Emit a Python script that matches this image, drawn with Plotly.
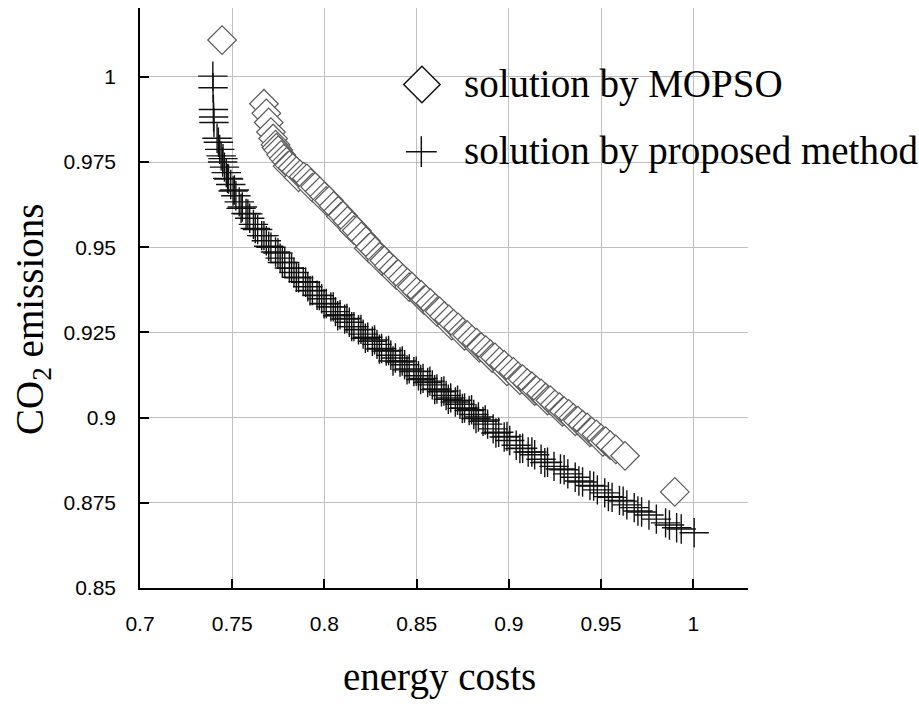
import plotly.graph_objects as go

# ---------------- data ----------------
mopso_cost = [
    0.7445, 0.7672, 0.7685, 0.7698, 0.7710, 0.7722, 0.7735, 0.7750, 0.7765, 0.7780,
    0.7795, 0.7810, 0.7828, 0.7848, 0.7868, 0.7888, 0.7905, 0.7925, 0.7950, 0.7975,
    0.8000, 0.8025, 0.8050, 0.8075, 0.8100, 0.8125, 0.8150, 0.8175, 0.8200, 0.8225,
    0.8250, 0.8275, 0.8300, 0.8325, 0.8350, 0.8375, 0.8400, 0.8425, 0.8450, 0.8475,
    0.8500, 0.8525, 0.8550, 0.8575, 0.8600, 0.8625, 0.8650, 0.8675, 0.8700, 0.8725,
    0.8750, 0.8775, 0.8800, 0.8825, 0.8850, 0.8875, 0.8900, 0.8925, 0.8950, 0.8975,
    0.9000, 0.9025, 0.9050, 0.9075, 0.9100, 0.9125, 0.9150, 0.9175, 0.9200, 0.9225,
    0.9250, 0.9275, 0.9300, 0.9325, 0.9350, 0.9375, 0.9400, 0.9425, 0.9450, 0.9475,
    0.9500, 0.9525, 0.9550, 0.9580, 0.9630, 0.9900,
    0.7740, 0.7800, 0.7860, 0.7935, 0.8010, 0.8090, 0.8160, 0.8240, 0.8310, 0.8390,
    0.8460, 0.8540, 0.8610, 0.8690, 0.8760, 0.8840, 0.8910, 0.8990, 0.9060, 0.9140,
    0.9210, 0.9290, 0.9360, 0.9440, 0.9510,
]
mopso_co2 = [
    1.0108, 0.9921, 0.9893, 0.9866, 0.9838, 0.9819, 0.9801, 0.9785, 0.9771, 0.9760,
    0.9751, 0.9741, 0.9733, 0.9723, 0.9714, 0.9707, 0.9702, 0.9689, 0.9677, 0.9664,
    0.9649, 0.9637, 0.9621, 0.9607, 0.9593, 0.9577, 0.9563, 0.9549, 0.9532, 0.9518,
    0.9501, 0.9488, 0.9472, 0.9461, 0.9446, 0.9434, 0.9422, 0.9408, 0.9396, 0.9384,
    0.9370, 0.9360, 0.9346, 0.9336, 0.9322, 0.9312, 0.9298, 0.9288, 0.9275, 0.9265,
    0.9251, 0.9242, 0.9229, 0.9220, 0.9207, 0.9198, 0.9186, 0.9177, 0.9164, 0.9155,
    0.9142, 0.9134, 0.9121, 0.9113, 0.9101, 0.9092, 0.9080, 0.9071, 0.9059, 0.9051,
    0.9039, 0.9031, 0.9019, 0.9011, 0.8999, 0.8991, 0.8979, 0.8971, 0.8959, 0.8951,
    0.8939, 0.8931, 0.8919, 0.8907, 0.8888, 0.8782,
    0.9792, 0.9738, 0.9705, 0.9675, 0.9636, 0.9590, 0.9550, 0.9497, 0.9460, 0.9418,
    0.9383, 0.9345, 0.9310, 0.9270, 0.9240, 0.9205, 0.9175, 0.9136, 0.9110, 0.9078,
    0.9050, 0.9017, 0.8989, 0.8957, 0.8929,
]

proposed_cost = [
    0.7395, 0.7396, 0.7398, 0.7399, 0.7401, 0.7418, 0.7425, 0.7432, 0.7440, 0.7448,
    0.7458, 0.7468, 0.7480, 0.7492, 0.7505, 0.7520, 0.7538, 0.7555, 0.7575, 0.7595,
    0.7615, 0.7638, 0.7660, 0.7685, 0.7710, 0.7735, 0.7760, 0.7785, 0.7810, 0.7835,
    0.7860, 0.7885, 0.7910, 0.7935, 0.7960, 0.7985, 0.8010, 0.8035, 0.8060, 0.8085,
    0.8110, 0.8135, 0.8160, 0.8185, 0.8210, 0.8235, 0.8260, 0.8285, 0.8310, 0.8335,
    0.8360, 0.8385, 0.8410, 0.8435, 0.8460, 0.8485, 0.8510, 0.8535, 0.8560, 0.8585,
    0.8610, 0.8635, 0.8660, 0.8685, 0.8710, 0.8735, 0.8760, 0.8785, 0.8810, 0.8835,
    0.8860, 0.8885, 0.8915, 0.8945, 0.8975, 0.9005, 0.9040, 0.9075, 0.9105, 0.9140,
    0.9175, 0.9210, 0.9245, 0.9280, 0.9320, 0.9360, 0.9400, 0.9440, 0.9480, 0.9520,
    0.9560, 0.9600, 0.9640, 0.9680, 0.9720, 0.9760, 0.9800, 0.9850, 0.9871, 0.9910,
    0.9935, 1.0005,
    0.7450, 0.7475, 0.7512, 0.7548, 0.7585, 0.7625, 0.7672, 0.7698, 0.7748, 0.7772,
    0.7822, 0.7848, 0.7898, 0.7922, 0.7972, 0.7998, 0.8048, 0.8072, 0.8122, 0.8148,
    0.8198, 0.8222, 0.8272, 0.8298, 0.8348, 0.8372, 0.8422, 0.8448, 0.8498, 0.8522,
    0.8572, 0.8598, 0.8648, 0.8672, 0.8722, 0.8748, 0.8798, 0.8822, 0.8872, 0.8930,
    0.8990, 0.9060, 0.9125, 0.9195, 0.9300, 0.9380, 0.9460, 0.9540, 0.9620, 0.9700,
]
proposed_co2 = [
    1.0002, 0.9968, 0.9904, 0.9882, 0.9866, 0.9820, 0.9808, 0.9787, 0.9768, 0.9750,
    0.9735, 0.9719, 0.9700, 0.9684, 0.9665, 0.9651, 0.9633, 0.9618, 0.9599, 0.9585,
    0.9567, 0.9552, 0.9534, 0.9519, 0.9500, 0.9486, 0.9468, 0.9455, 0.9439, 0.9426,
    0.9410, 0.9399, 0.9384, 0.9373, 0.9359, 0.9349, 0.9335, 0.9325, 0.9311, 0.9302,
    0.9289, 0.9280, 0.9267, 0.9258, 0.9245, 0.9236, 0.9224, 0.9215, 0.9203, 0.9195,
    0.9183, 0.9175, 0.9163, 0.9155, 0.9143, 0.9135, 0.9123, 0.9115, 0.9103, 0.9096,
    0.9084, 0.9076, 0.9065, 0.9058, 0.9046, 0.9039, 0.9028, 0.9021, 0.9009, 0.9002,
    0.8989, 0.8981, 0.8967, 0.8957, 0.8943, 0.8933, 0.8919, 0.8910, 0.8899, 0.8891,
    0.8878, 0.8869, 0.8857, 0.8849, 0.8835, 0.8825, 0.8811, 0.8801, 0.8788, 0.8779,
    0.8766, 0.8757, 0.8744, 0.8736, 0.8723, 0.8714, 0.8702, 0.8691, 0.8685, 0.8677,
    0.8673, 0.8662,
    0.9760, 0.9702, 0.9668, 0.9614, 0.9598, 0.9555, 0.9534, 0.9503, 0.9483, 0.9455,
    0.9438, 0.9412, 0.9397, 0.9372, 0.9358, 0.9334, 0.9325, 0.9299, 0.9291, 0.9267,
    0.9259, 0.9233, 0.9228, 0.9201, 0.9197, 0.9166, 0.9166, 0.9140, 0.9136, 0.9112,
    0.9107, 0.9082, 0.9078, 0.9054, 0.9051, 0.9027, 0.9023, 0.8997, 0.8993, 0.8955,
    0.8945, 0.8909, 0.8899, 0.8868, 0.8847, 0.8814, 0.8799, 0.8768, 0.8755, 0.8726,
]

x_ticks = [0.7, 0.75, 0.8, 0.85, 0.9, 0.95, 1.0]
x_tick_text = ["0.7", "0.75", "0.8", "0.85", "0.9", "0.95", "1"]
y_ticks = [0.85, 0.875, 0.9, 0.925, 0.95, 0.975, 1.0]
y_tick_text = ["0.85", "0.875", "0.9", "0.925", "0.95", "0.975", "1"]

series_names = ["solution by MOPSO", "solution by proposed method"]

# draw points in order of increasing cost (as the original plot overlaps)
mopso_pts = sorted(zip(mopso_cost, mopso_co2))
proposed_pts = sorted(zip(proposed_cost, proposed_co2))

# ---------------- styling ----------------
SERIF = "Liberation Serif, Times New Roman, serif"
SANS = "Liberation Sans, Arial, sans-serif"
GRID = "#bfbfbf"

fig = go.Figure()

fig.add_trace(go.Scatter(
    x=[p[0] for p in mopso_pts], y=[p[1] for p in mopso_pts],
    mode="markers", name=series_names[0],
    marker=dict(symbol="diamond", size=22, color="white",
                line=dict(color="#5a5a5a", width=1.2)),
    cliponaxis=False,
))
fig.add_trace(go.Scatter(
    x=[p[0] for p in proposed_pts], y=[p[1] for p in proposed_pts],
    mode="markers", name=series_names[1],
    marker=dict(symbol="cross-thin", size=21,
                line=dict(color="#111111", width=1.4)),
    cliponaxis=False,
))

# custom legend symbols on an invisible overlay axis (fractions of plot area)
fig.add_trace(go.Scatter(
    x=[0.4637], y=[0.8681], mode="markers", xaxis="x2", yaxis="y2",
    marker=dict(symbol="diamond", size=28, color="white",
                line=dict(color="#111111", width=1.5)),
    hoverinfo="skip", cliponaxis=False,
))
fig.add_trace(go.Scatter(
    x=[0.4627], y=[0.7522], mode="markers", xaxis="x2", yaxis="y2",
    marker=dict(symbol="cross-thin", size=22,
                line=dict(color="#111111", width=1.5)),
    hoverinfo="skip", cliponaxis=False,
))

axis_common = dict(
    showgrid=True, gridcolor=GRID, gridwidth=1.3,
    showline=True, linecolor="black", linewidth=1.5,
    ticks="inside", ticklen=9, tickwidth=1.5, tickcolor="black",
    tickfont=dict(family=SANS, size=21, color="black"),
    zeroline=False, mirror=False,
)

fig.update_layout(
    width=919, height=704,
    margin=dict(l=140, r=171, t=8, b=116),
    plot_bgcolor="white", paper_bgcolor="white",
    showlegend=False,
    xaxis=dict(range=[0.7, 1.0297], tickmode="array", tickvals=x_ticks,
               ticktext=x_tick_text, ticklabelstandoff=16, **axis_common),
    yaxis=dict(range=[0.85, 1.0202], tickmode="array", tickvals=y_ticks,
               ticktext=y_tick_text, ticklabelstandoff=18, **axis_common),
    xaxis2=dict(range=[0, 1], overlaying="x", visible=False, anchor="y2"),
    yaxis2=dict(range=[0, 1], overlaying="y", visible=False, anchor="x2"),
    annotations=[
        dict(text=series_names[0], xref="paper", yref="paper", x=0.5296, y=0.8691,
             xanchor="left", yanchor="middle", showarrow=False,
             font=dict(family=SERIF, size=39, color="black")),
        dict(text=series_names[1], xref="paper", yref="paper", x=0.5296, y=0.7538,
             xanchor="left", yanchor="middle", showarrow=False,
             font=dict(family=SERIF, size=39, color="black")),
        dict(text="energy costs", xref="paper", yref="paper", x=0.4934, y=-0.1534,
             xanchor="center", yanchor="middle", showarrow=False,
             font=dict(family=SERIF, size=39, color="black")),
        dict(text="CO<sub>2</sub> emissions", xref="paper", yref="paper",
             x=-0.176, y=0.4638, textangle=-90,
             xanchor="center", yanchor="middle", showarrow=False,
             font=dict(family=SERIF, size=39, color="black")),
    ],
)

fig.write_html("out.html")
